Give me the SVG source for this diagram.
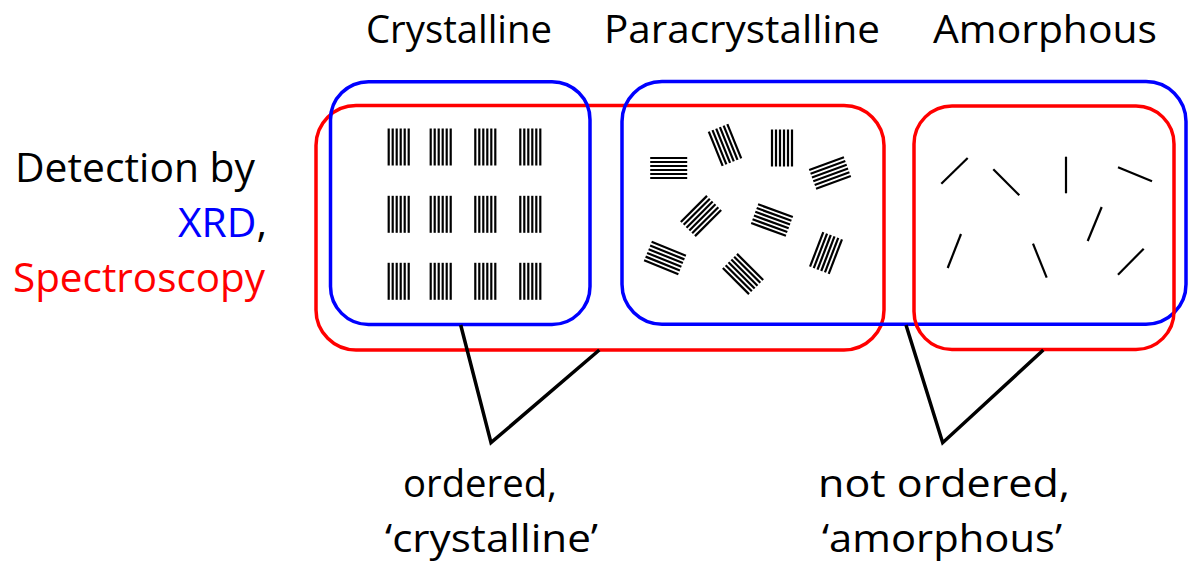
<svg xmlns="http://www.w3.org/2000/svg" xmlns:xlink="http://www.w3.org/1999/xlink" width="1188" height="562" viewBox="0 0 1188 562">
<style>
.lbl{font-family:"Open Sans","Liberation Sans",sans-serif;font-size:39px;fill:#000}
.side{font-size:41px}
.red{stroke:#ff0000;stroke-width:3.5;fill:none}
.blue{stroke:#0000ff;stroke-width:3.5;fill:none}
.conn{stroke:#000;stroke-width:3.5;fill:none;stroke-linejoin:miter}
.am{stroke:#000;stroke-width:2.2;fill:none}
</style>
<defs>
<g id="stack" stroke="#000" stroke-width="2.2">
<line x1="-10" y1="-18.5" x2="-10" y2="18.5"/>
<line x1="-6" y1="-18.5" x2="-6" y2="18.5"/>
<line x1="-2" y1="-18.5" x2="-2" y2="18.5"/>
<line x1="2" y1="-18.5" x2="2" y2="18.5"/>
<line x1="6" y1="-18.5" x2="6" y2="18.5"/>
<line x1="10" y1="-18.5" x2="10" y2="18.5"/>
</g>
</defs>
<rect width="1188" height="562" fill="#fff"/>
<g id="spectroscopy-ordered">
<rect class="red" x="316" y="105.5" width="568" height="244.5" rx="40"/>
</g>
<g id="xrd-crystalline">
<rect class="blue" x="330.5" y="81.7" width="259.5" height="242.8" rx="38"/>
</g>
<g id="xrd-disordered">
<rect class="blue" x="622" y="81.5" width="564" height="242.8" rx="40"/>
</g>
<g id="spectroscopy-amorphous">
<rect class="red" x="914" y="106" width="260" height="243.5" rx="38"/>
</g>
<g id="crystalline-content">
<use xlink:href="#stack" transform="translate(398.7,147)"/>
<use xlink:href="#stack" transform="translate(440.7,147)"/>
<use xlink:href="#stack" transform="translate(485.3,147)"/>
<use xlink:href="#stack" transform="translate(530.3,147)"/>
<use xlink:href="#stack" transform="translate(398.7,214.3)"/>
<use xlink:href="#stack" transform="translate(440.7,214.3)"/>
<use xlink:href="#stack" transform="translate(485.3,214.3)"/>
<use xlink:href="#stack" transform="translate(530.3,214.3)"/>
<use xlink:href="#stack" transform="translate(398.7,281.3)"/>
<use xlink:href="#stack" transform="translate(440.7,281.3)"/>
<use xlink:href="#stack" transform="translate(485.3,281.3)"/>
<use xlink:href="#stack" transform="translate(530.3,281.3)"/>
</g>
<g id="paracrystalline-content">
<use xlink:href="#stack" transform="translate(668.7,168) rotate(90)"/>
<use xlink:href="#stack" transform="translate(725,145) rotate(-22)"/>
<use xlink:href="#stack" transform="translate(782,148)"/>
<use xlink:href="#stack" transform="translate(830,173) rotate(70)"/>
<use xlink:href="#stack" transform="translate(701,216) rotate(45)"/>
<use xlink:href="#stack" transform="translate(772,220) rotate(-70)"/>
<use xlink:href="#stack" transform="translate(826,253) rotate(21)"/>
<use xlink:href="#stack" transform="translate(665,258) rotate(-68)"/>
<use xlink:href="#stack" transform="translate(743,274) rotate(-45)"/>
</g>
<g id="amorphous-content">
<line class="am" x1="941.3" y1="183.7" x2="967.7" y2="158"/>
<line class="am" x1="993.3" y1="169.3" x2="1019.3" y2="195.3"/>
<line class="am" x1="1066" y1="156.7" x2="1066" y2="193.3"/>
<line class="am" x1="1118" y1="167.3" x2="1152" y2="181.3"/>
<line class="am" x1="961" y1="234" x2="947.7" y2="268"/>
<line class="am" x1="1033" y1="243.7" x2="1046.7" y2="277.7"/>
<line class="am" x1="1101.7" y1="207" x2="1087.7" y2="241"/>
<line class="am" x1="1143.7" y1="248.7" x2="1118" y2="274.7"/>
</g>
<g id="connectors">
<polyline class="conn" points="460.7,325 491,442.7 599.3,350"/>
<polyline class="conn" points="906,325 942.7,442.7 1043.3,350"/>
</g>
<g id="labels">
<text class="lbl" x="366" y="43" textLength="186" lengthAdjust="spacingAndGlyphs">Crystalline</text>
<text class="lbl" x="604" y="43" textLength="276" lengthAdjust="spacingAndGlyphs">Paracrystalline</text>
<text class="lbl" x="933" y="43" textLength="224" lengthAdjust="spacingAndGlyphs">Amorphous</text>
<text class="lbl side" x="15" y="182" textLength="240" lengthAdjust="spacingAndGlyphs">Detection by</text>
<text class="lbl side" x="178" y="237" textLength="89" lengthAdjust="spacingAndGlyphs"><tspan fill="#0000ff">XRD</tspan>,</text>
<text class="lbl side" x="13" y="292" textLength="252" lengthAdjust="spacingAndGlyphs" style="fill:#ff0000">Spectroscopy</text>
<text class="lbl" x="403" y="497" textLength="154" lengthAdjust="spacingAndGlyphs">ordered,</text>
<text class="lbl" x="385" y="552" textLength="213" lengthAdjust="spacingAndGlyphs">‘crystalline’</text>
<text class="lbl" x="818" y="497" textLength="252" lengthAdjust="spacingAndGlyphs">not ordered,</text>
<text class="lbl" x="822" y="552" textLength="240" lengthAdjust="spacingAndGlyphs">‘amorphous’</text>
</g>
</svg>
